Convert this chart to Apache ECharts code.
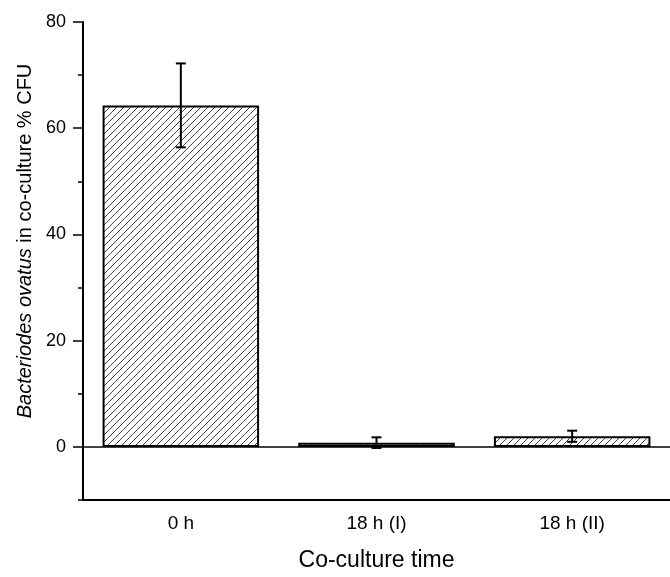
<!DOCTYPE html>
<html>
<head>
<meta charset="utf-8">
<script src="https://cdn.jsdelivr.net/npm/echarts@6/dist/echarts.min.js"></script>
<style>
  html, body { margin: 0; padding: 0; background: #fff; }
  #chart { width: 670px; height: 577px; }
</style>
</head>
<body>
<div id="chart"></div>
<script>
// data
var categories = ['0 h', '18 h (I)', '18 h (II)'];
var means = [64.3, 0.8, 2.0];
var errors = [7.9, 1.0, 1.05];
var majorTicks = [0, 20, 40, 60, 80];
var minorTicks = [-10, 10, 30, 50, 70];

var FONT = 'Liberation Sans';

// hatch tile, "/" lines
function hatch () {
  var s = 7;
  var c = document.createElement('canvas');
  c.width = s; c.height = s;
  var ctx = c.getContext('2d');
  ctx.fillStyle = '#fff';
  ctx.fillRect(0, 0, s, s);
  ctx.strokeStyle = '#444';
  ctx.lineWidth = 1;
  ctx.beginPath();
  ctx.moveTo(-1, s + 1); ctx.lineTo(s + 1, -1);
  ctx.moveTo(-1, 1); ctx.lineTo(1, -1);
  ctx.moveTo(s - 1, s + 1); ctx.lineTo(s + 1, s - 1);
  ctx.stroke();
  return c;
}

var chart = echarts.init(document.getElementById('chart'));

var option = {
  animation: false,
  backgroundColor: '#fff',
  grid: { left: 83, right: -8.5, top: 22, bottom: 72 },
  xAxis: [
    {
      type: 'category',
      data: categories,
      position: 'bottom',
      name: 'Co-culture time',
      nameLocation: 'middle',
      nameGap: 49,
      nameTextStyle: { fontFamily: FONT, fontSize: 23, color: '#000' },
      axisLine: { onZero: false, lineStyle: { color: '#000', width: 2 } },
      axisTick: { alignWithLabel: true, length: 9, lineStyle: { color: '#000', width: 1.5 } },
      axisLabel: { fontFamily: FONT, fontSize: 19, color: '#000', margin: 14 }
    },
    {
      // minor ticks between categories
      type: 'category',
      data: categories,
      position: 'bottom',
      axisLine: { show: false, onZero: false },
      axisTick: { length: 5, lineStyle: { color: '#000', width: 1.5 } },
      axisLabel: { show: false }
    }
  ],
  yAxis: [
    {
      type: 'value',
      min: -10,
      max: 80,
      name: '{i|Bacteriodes ovatus} in co-culture % CFU',
      nameLocation: 'middle',
      nameGap: 46,
      nameTextStyle: {
        fontFamily: FONT, fontSize: 20, color: '#000',
        padding: [0, 0, 0, 40],
        rich: { i: { fontFamily: FONT, fontSize: 20, fontStyle: 'italic', color: '#000' } }
      },
      splitLine: { show: false },
      axisLine: { show: true, lineStyle: { color: '#000', width: 2 } },
      axisTick: { show: true, length: 10, customValues: majorTicks, lineStyle: { color: '#000', width: 1.5 } },
      axisLabel: { customValues: majorTicks, fontFamily: FONT, fontSize: 18, color: '#000', margin: 17 }
    },
    {
      type: 'value',
      min: -10,
      max: 80,
      position: 'left',
      splitLine: { show: false },
      axisLine: { show: false },
      axisTick: { show: true, length: 5, customValues: minorTicks, lineStyle: { color: '#000', width: 1.5 } },
      axisLabel: { show: false }
    }
  ],
  series: [
    {
      type: 'bar',
      data: means,
      barWidth: '80%',
      itemStyle: {
        color: { image: hatch(), repeat: 'repeat' },
        borderColor: '#000',
        borderWidth: 2
      },
      markLine: {
        silent: true,
        symbol: ['none', 'none'],
        label: { show: false },
        lineStyle: { color: '#000', width: 1.5, type: 'solid' },
        data: [{ yAxis: 0 }]
      },
      z: 2
    },
    {
      type: 'custom',
      z: 5,
      data: means.map(function (m, i) { return [i, m - errors[i], m + errors[i]]; }),
      renderItem: function (params, api) {
        var lo = api.coord([api.value(0), api.value(1)]);
        var hi = api.coord([api.value(0), api.value(2)]);
        var w = 5;
        var st = { stroke: '#000', lineWidth: 2 };
        return {
          type: 'group',
          children: [
            { type: 'line', shape: { x1: hi[0], y1: hi[1], x2: lo[0], y2: lo[1] }, style: st },
            { type: 'line', shape: { x1: hi[0] - w, y1: hi[1], x2: hi[0] + w, y2: hi[1] }, style: st },
            { type: 'line', shape: { x1: lo[0] - w, y1: lo[1], x2: lo[0] + w, y2: lo[1] }, style: st }
          ]
        };
      }
    }
  ]
};

chart.setOption(option);
</script>
</body>
</html>
